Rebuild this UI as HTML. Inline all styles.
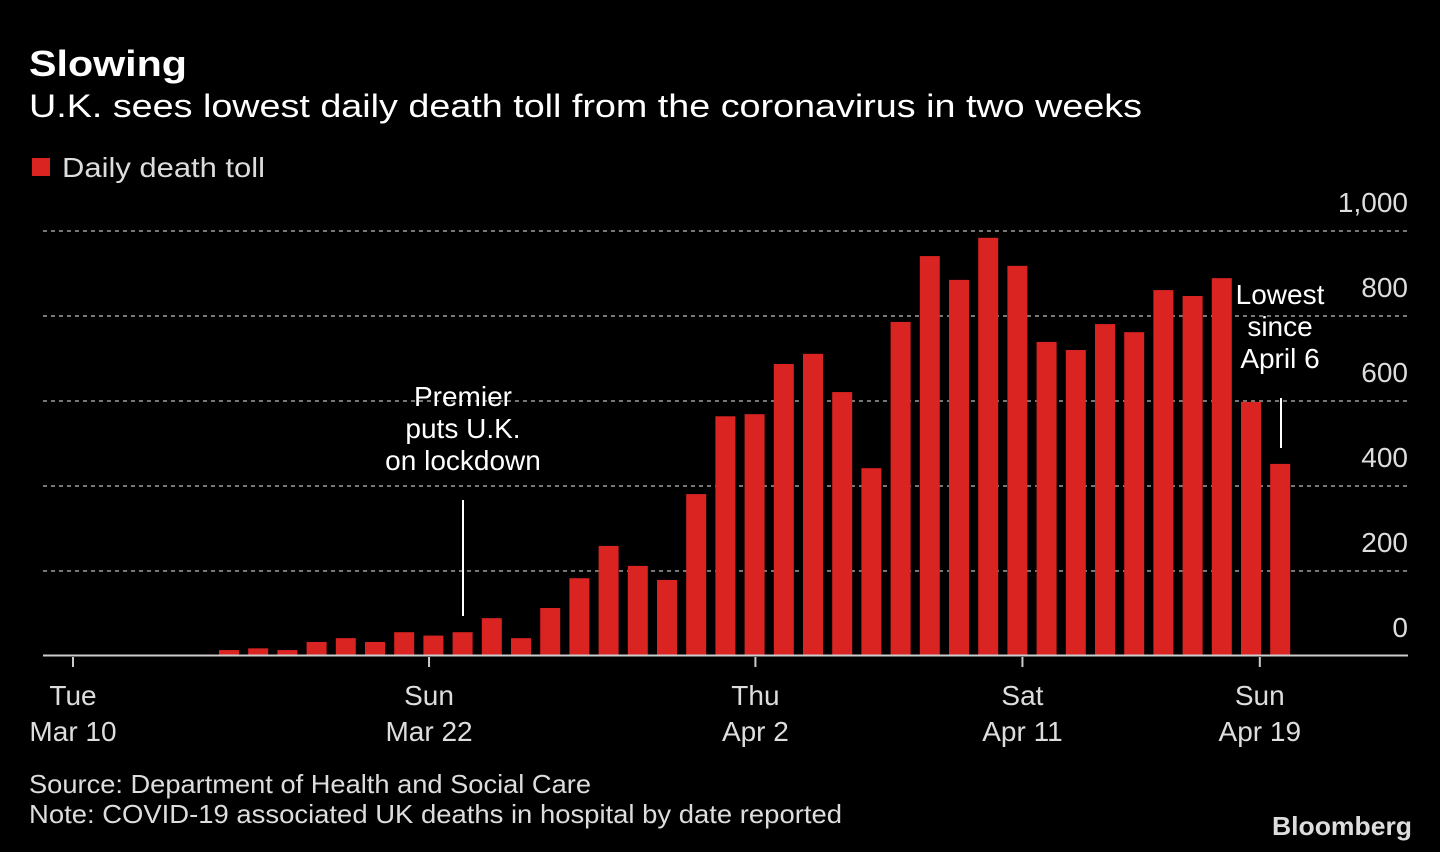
<!DOCTYPE html>
<html><head><meta charset="utf-8"><style>
html,body{margin:0;padding:0;background:#000;}
svg{display:block;font-family:"Liberation Sans",sans-serif;}
</style></head><body>
<svg id="chart" width="1440" height="852" viewBox="0 0 1440 852">
<rect width="1440" height="852" fill="#000"/>
<text x="29" y="76" fill="#fff" font-size="36" font-weight="bold" textLength="158" lengthAdjust="spacingAndGlyphs">Slowing</text>
<text x="29" y="117" fill="#fff" font-size="32" textLength="1113" lengthAdjust="spacingAndGlyphs">U.K. sees lowest daily death toll from the coronavirus in two weeks</text>
<rect x="32" y="158" width="18" height="18" fill="#da2421"/>
<text x="62" y="177" fill="#ddd" font-size="28" textLength="203" lengthAdjust="spacingAndGlyphs">Daily death toll</text>
<g id="grid"></g>
<g id="bars"></g>
<line x1="43" y1="655.5" x2="1408" y2="655.5" stroke="#ccc" stroke-width="2"/>
<g id="xticks"></g>
<g>
<text x="463" y="406" fill="#fff" font-size="28" text-anchor="middle">Premier</text>
<text x="463" y="438" fill="#fff" font-size="28" text-anchor="middle">puts U.K.</text>
<text x="463" y="470" fill="#fff" font-size="28" text-anchor="middle">on lockdown</text>
<line x1="463" y1="500" x2="463" y2="616" stroke="#fff" stroke-width="2"/>
</g>
<g>
<text x="1280" y="304" fill="#fff" font-size="28" text-anchor="middle">Lowest</text>
<text x="1280" y="336" fill="#fff" font-size="28" text-anchor="middle">since</text>
<text x="1280" y="368" fill="#fff" font-size="28" text-anchor="middle">April 6</text>
<line x1="1281" y1="398" x2="1281" y2="448" stroke="#fff" stroke-width="2"/>
</g>
<text x="29" y="793" fill="#ddd" font-size="26" textLength="562" lengthAdjust="spacingAndGlyphs">Source: Department of Health and Social Care</text>
<text x="29" y="823" fill="#ddd" font-size="26" textLength="813" lengthAdjust="spacingAndGlyphs">Note: COVID-19 associated UK deaths in hospital by date reported</text>
<text x="1412" y="835" fill="#ddd" font-size="26" font-weight="bold" text-anchor="end" textLength="140" lengthAdjust="spacingAndGlyphs">Bloomberg</text>
</svg>
<script>
const deaths = [14,18,14,33,42,33,56,48,56,89,42,113,183,259,212,179,381,564,569,687,711,621,442,786,941,885,984,918,739,720,781,762,861,847,889,598,452];
const yTicks = [0,200,400,600,800,1000];
const yTickLabels = ["0","200","400","600","800","1,000"];
const xTickDays = [0,12,23,32,40];
const xTickTop = ["Tue","Sun","Thu","Sat","Sun"];
const xTickBottom = ["Mar 10","Mar 22","Apr 2","Apr 11","Apr 19"];
const firstBarDay = 5;

const NS = "http://www.w3.org/2000/svg";
function y(v){ return 656 - v * 0.425; }
function xDay(d){ return 73 + d * 29.67; }
function xBar(i){ return 229 + i * 29.2; }
function mk(tag, attrs, parent){ const e=document.createElementNS(NS,tag); for(const k in attrs) e.setAttribute(k, attrs[k]); parent.appendChild(e); return e; }

const grid = document.getElementById('grid');
yTicks.forEach((v,i)=>{
  if (v>0){
    const l = mk('line',{x1:43,x2:1408,y1:y(v),y2:y(v),stroke:'#777','stroke-width':2,'stroke-dasharray':'4,4'},grid);
    
    
  }
  const t = mk('text',{x:1408,y:y(v)-19,fill:'#ddd','font-size':28,'text-anchor':'end'},grid);
  t.textContent = yTickLabels[i];
  
  
});

const bars = document.getElementById('bars');
deaths.forEach((v,i)=>{
  const r = mk('rect',{x:xBar(i)-10,y:y(v),width:20,height:656-y(v),fill:'#da2421'},bars);
  
  
});

const xt = document.getElementById('xticks');
xTickDays.forEach((d,i)=>{
  const x = xDay(d);
  const l = mk('line',{x1:x,x2:x,y1:657,y2:667,stroke:'#ccc','stroke-width':2},xt);
  
  
  const t1 = mk('text',{x:x,y:705,fill:'#ddd','font-size':28,'text-anchor':'middle'},xt);
  t1.textContent = xTickTop[i];
  
  
  const t2 = mk('text',{x:x,y:741,fill:'#ddd','font-size':28,'text-anchor':'middle'},xt);
  t2.textContent = xTickBottom[i];
  
  
});
</script>
</body></html>
